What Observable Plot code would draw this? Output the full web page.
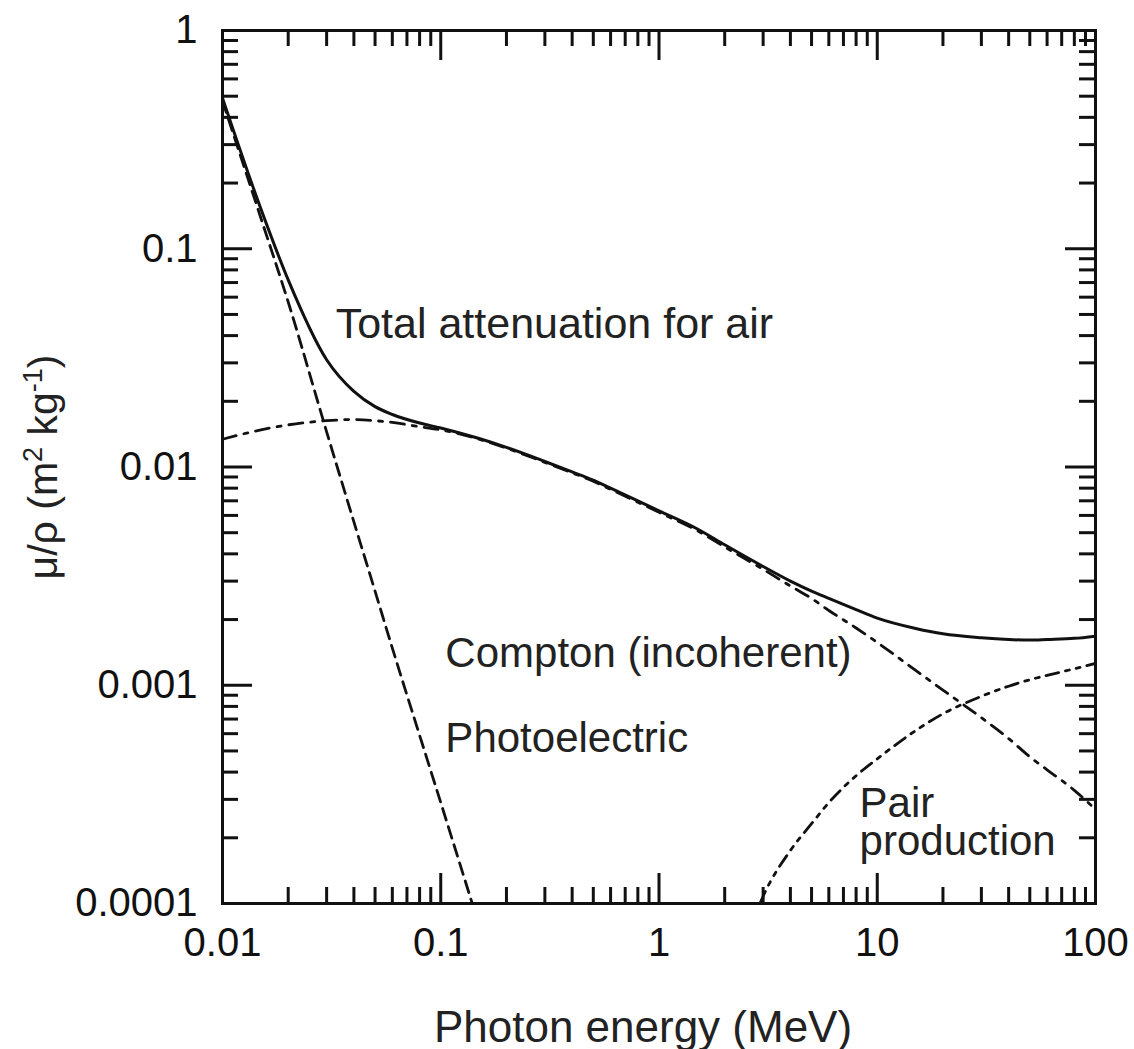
<!DOCTYPE html>
<html>
<head>
<meta charset="utf-8">
<script src="https://cdn.jsdelivr.net/npm/d3@7"></script>
<script src="https://cdn.jsdelivr.net/npm/@observablehq/plot@0.6"></script>
<style>
  html, body { margin: 0; padding: 0; background: #fff; }
  #chart { width: 1134px; height: 1049px; }
</style>
</head>
<body>
<div id="chart"></div>
<script>
// ---- Data (photon energy in MeV, mass attenuation coefficient in m^2 kg^-1) ----
const energy = [0.01, 0.015, 0.02, 0.03, 0.04, 0.05, 0.06, 0.08, 0.1, 0.15, 0.2, 0.3, 0.4, 0.5, 0.6, 0.8,
                1, 1.5, 2, 3, 4, 5, 6, 8, 10, 15, 20, 30, 40, 50, 60, 80, 100];
const totalAttenuation = [0.49, 0.152, 0.072, 0.031, 0.0222, 0.0189, 0.0174, 0.0159, 0.0151, 0.0135, 0.0123,
                0.0106, 0.0095, 0.0087, 0.0080, 0.0070, 0.0063, 0.0052, 0.0044, 0.0035, 0.0030, 0.0027,
                0.0025, 0.00222, 0.00203, 0.00182, 0.00172, 0.00165, 0.00162, 0.00161, 0.00162, 0.00164, 0.00168];
const compton = [0.0134, 0.0148, 0.0156, 0.0163, 0.0165, 0.0163, 0.0160, 0.0153, 0.0148, 0.0134, 0.0122,
                0.0105, 0.0094, 0.0086, 0.0079, 0.0069, 0.0062, 0.0051, 0.0043, 0.0034, 0.00285, 0.0025,
                0.0022, 0.00183, 0.00157, 0.00117, 0.00095, 0.00071, 0.00057, 0.00047, 0.00041, 0.00033, 0.00027];
const photoEnergy = [0.01, 0.015, 0.02, 0.03, 0.04, 0.05, 0.06, 0.08, 0.1, 0.15];
const photoelectric = [0.475, 0.138, 0.057, 0.0145, 0.0056, 0.0027, 0.00148, 0.00059, 0.00029, 0.000079];
const pairEnergy = [2.9, 3, 4, 5, 6, 8, 10, 15, 20, 30, 40, 50, 60, 80, 100];
const pairProduction = [0.0001, 0.000108, 0.000175, 0.000232, 0.00029, 0.000385, 0.00046, 0.00062, 0.00074,
                0.00089, 0.00099, 0.00106, 0.00111, 0.00119, 0.00126];

// ---- Axes ----
const xMajor = [0.01, 0.1, 1, 10, 100];
const xTickLabels = ["0.01", "0.1", "1", "10", "100"];
const yMajor = [0.0001, 0.001, 0.01, 0.1, 1];
const yTickLabels = ["0.0001", "0.001", "0.01", "0.1", "1"];
const minorMultipliers = [2, 3, 4, 5, 6, 7, 8, 9];
const xMinor = xMajor.slice(0, -1).flatMap(d => minorMultipliers.map(m => d * m));
const yMinor = yMajor.slice(0, -1).flatMap(d => minorMultipliers.map(m => d * m));
const xTitle = "Photon energy (MeV)";

// ---- Curve annotations (data coordinates of label baselines) ----
const labelText = ["Total attenuation for air", "Compton (incoherent)", "Photoelectric", "Pair\nproduction"];
const labelX = [0.033, 0.105, 0.105, 8.3];
const labelY = [0.0388, 0.00121, 0.000492, 0.000166];
const labelSize = [43, 42, 42, 42];

// ---- Build tables ----
const totalData = energy.map((e, i) => ({e, v: totalAttenuation[i]}));
const comptonData = energy.map((e, i) => ({e, v: compton[i]}));
const photoData = photoEnergy.map((e, i) => ({e, v: photoelectric[i]}));
const pairData = pairEnergy.map((e, i) => ({e, v: pairProduction[i]}));
const labels = labelText.map((t, i) => ({t, x: labelX[i], y: labelY[i], s: labelSize[i]}));

const W = 1134, H = 1049;
const mL = 222, mR = 39, mT = 30, mB = 146;
const PW = W - mL - mR, PH = H - mT - mB;
const minorLen = 16, majorLen = 30;
const tickW = 3;
const ink = "#111";
const font = "'Liberation Sans', Arial, Helvetica, sans-serif";

const chart = Plot.plot({
  width: W, height: H,
  marginLeft: mL, marginRight: mR, marginTop: mT, marginBottom: mB,
  style: {fontFamily: font, background: "#fff", color: ink, overflow: "visible"},
  x: {type: "log", domain: [0.01, 100]},
  y: {type: "log", domain: [0.0001, 1]},
  marks: [
    // inward ticks: bottom / top
    Plot.tickX(xMinor, {x: d => d, insetTop: PH - minorLen, stroke: ink, strokeWidth: tickW}),
    Plot.tickX(xMinor, {x: d => d, insetBottom: PH - minorLen, stroke: ink, strokeWidth: tickW}),
    Plot.tickX(xMajor, {x: d => d, insetTop: PH - majorLen, stroke: ink, strokeWidth: tickW}),
    Plot.tickX(xMajor, {x: d => d, insetBottom: PH - majorLen, stroke: ink, strokeWidth: tickW}),
    // inward ticks: left / right
    Plot.tickY(yMinor, {y: d => d, insetRight: PW - minorLen, stroke: ink, strokeWidth: tickW}),
    Plot.tickY(yMinor, {y: d => d, insetLeft: PW - minorLen, stroke: ink, strokeWidth: tickW}),
    Plot.tickY(yMajor, {y: d => d, insetRight: PW - majorLen, stroke: ink, strokeWidth: tickW}),
    Plot.tickY(yMajor, {y: d => d, insetLeft: PW - majorLen, stroke: ink, strokeWidth: tickW}),
    // curves
    Plot.line(photoData, {x: "e", y: "v", stroke: ink, strokeWidth: 2.8, strokeDasharray: "12,7", curve: "monotone-x", clip: true}),
    Plot.line(comptonData, {x: "e", y: "v", stroke: ink, strokeWidth: 2.8, strokeDasharray: "14,8,4,8", curve: "monotone-x", clip: true}),
    Plot.line(pairData, {x: "e", y: "v", stroke: ink, strokeWidth: 2.8, strokeDasharray: "13,7,4,7,4,7", curve: "monotone-x", clip: true}),
    Plot.line(totalData, {x: "e", y: "v", stroke: ink, strokeWidth: 3, curve: "monotone-x", clip: true}),
    // frame
    Plot.frame({stroke: ink, strokeWidth: 3}),
    // tick labels
    Plot.axisX(xMajor, {anchor: "bottom", tickSize: 0, tickPadding: 24, fontSize: 40, label: null,
      tickFormat: d => xTickLabels[xMajor.indexOf(d)]}),
    Plot.axisY(yMajor, {anchor: "left", tickSize: 0, tickPadding: 25, fontSize: 40, label: null,
      tickFormat: d => yTickLabels[yMajor.indexOf(d)]}),
    // annotations
    Plot.text(labels, {x: "x", y: "y", text: "t", textAnchor: "start", lineAnchor: "bottom",
      lineHeight: 0.92, fontSize: d => d.s, fill: "#222"}),
    // x title
    Plot.text([xTitle], {text: d => d, frameAnchor: "bottom", lineAnchor: "bottom", dy: 138, dx: -16, fontSize: 44, fill: "#222"})
  ]
});

document.getElementById("chart").appendChild(chart);

// y-axis title with superscripts
const svg = d3.select(chart);
const yt = svg.append("text")
  .attr("transform", "translate(57,467) rotate(-90)")
  .attr("text-anchor", "middle")
  .attr("font-size", 41)
  .attr("fill", "#222")
  .attr("font-family", font);
yt.append("tspan").text("μ/ρ (m");
yt.append("tspan").attr("font-size", 27).attr("dy", "-15").text("2");
yt.append("tspan").attr("dy", "15").text(" kg");
yt.append("tspan").attr("font-size", 27).attr("dy", "-15").text("-1");
yt.append("tspan").attr("dy", "15").text(")");
</script>
</body>
</html>
